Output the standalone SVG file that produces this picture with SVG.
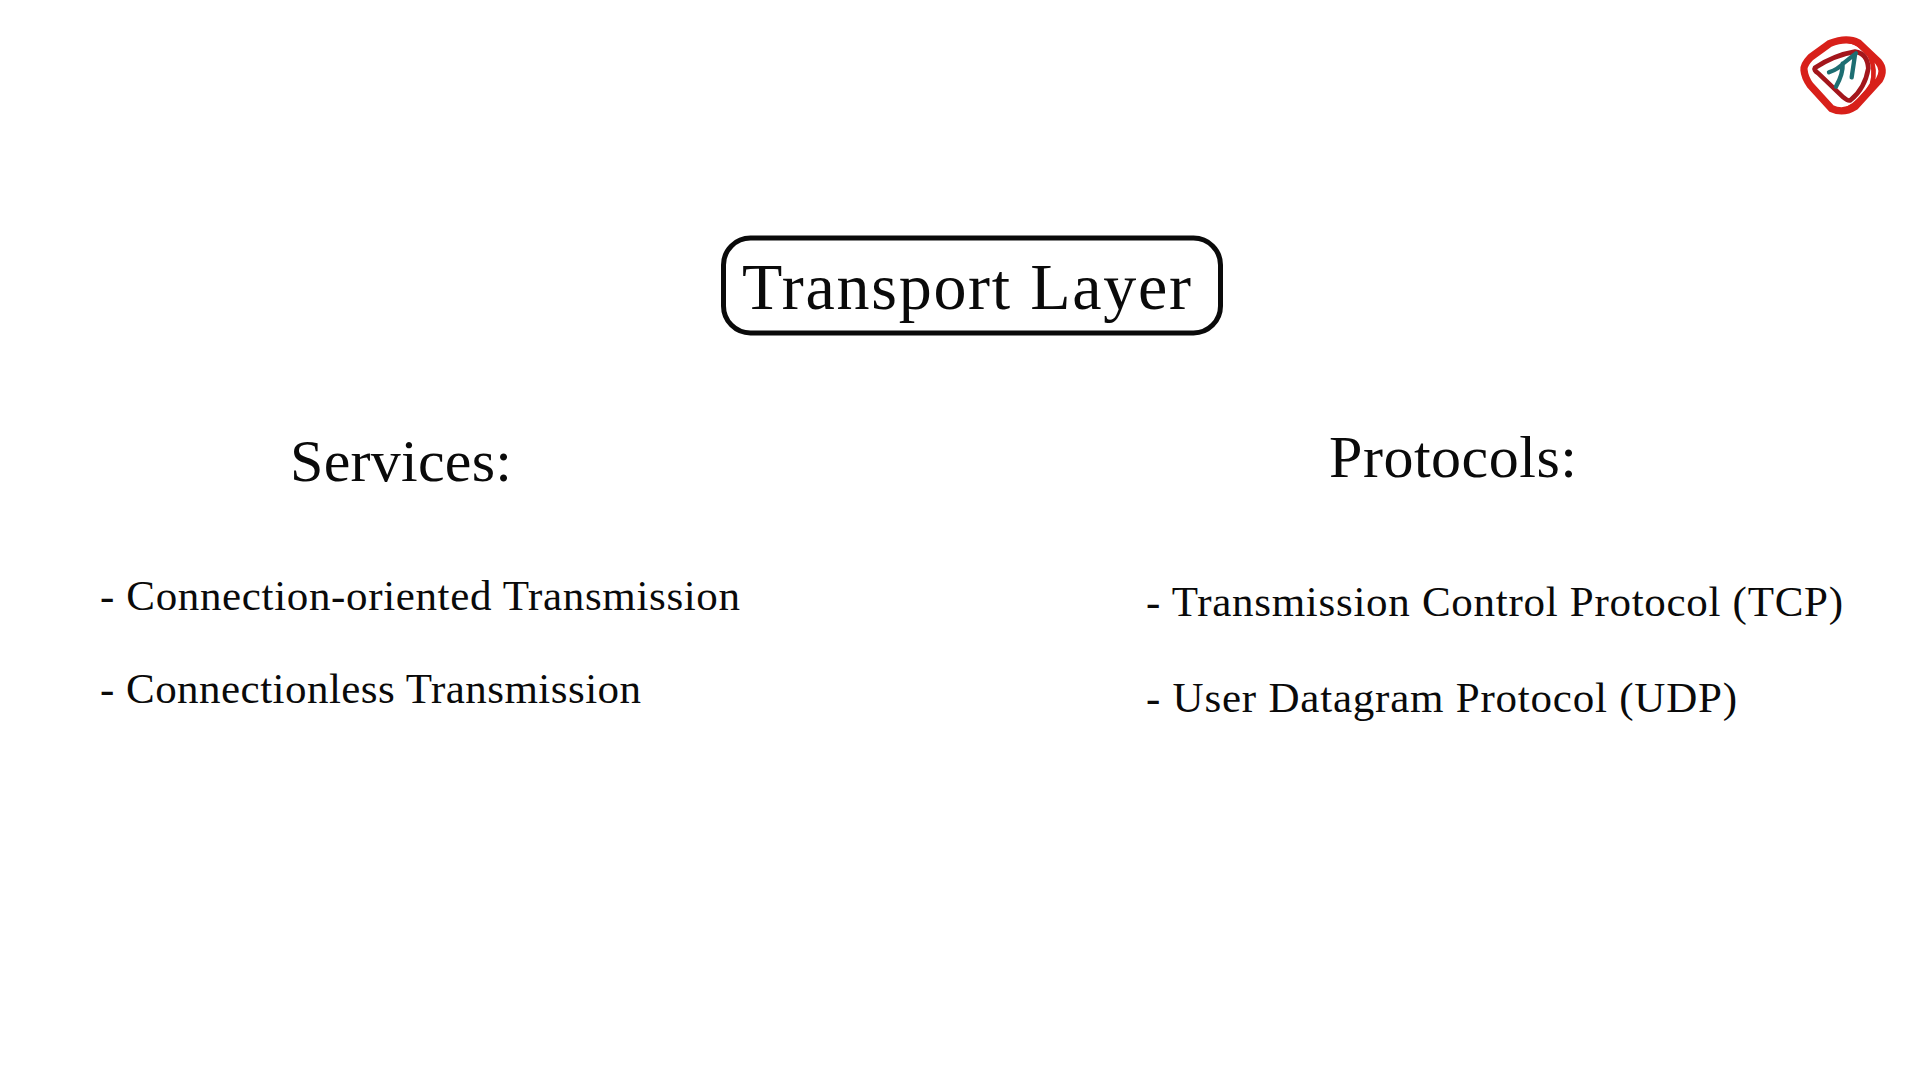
<svg xmlns="http://www.w3.org/2000/svg" width="1920" height="1080" viewBox="0 0 1920 1080">
<style>
text{font-family:"Liberation Serif","Times New Roman",serif;fill:#0a0a0a}
.h{font-size:60px}
.l{font-size:43px}
.r{fill:none;stroke:#d8201a;stroke-linejoin:round;stroke-linecap:round}
</style>
<rect width="1920" height="1080" fill="#fff"/>
<g id="title">
<rect x="723.500" y="238" width="497" height="95" rx="27" fill="#fff" stroke="#0a0a0a" stroke-width="5"/>
<text x="742" y="309" font-size="66" textLength="449" lengthAdjust="spacing">Transport Layer</text>
</g>
<g id="services">
<text class="h" x="290" y="481" textLength="222" lengthAdjust="spacing">Services:</text>
<text class="l" x="100" y="610" textLength="640" lengthAdjust="spacing">- Connection-oriented Transmission</text>
<text class="l" x="100" y="703" textLength="541" lengthAdjust="spacing">- Connectionless Transmission</text>
</g>
<g id="protocols">
<text class="h" x="1329" y="477" textLength="248" lengthAdjust="spacing">Protocols:</text>
<text class="l" x="1146" y="616" textLength="697" lengthAdjust="spacing">- Transmission Control Protocol (TCP)</text>
<text class="l" x="1146" y="712" textLength="591" lengthAdjust="spacing">- User Datagram Protocol (UDP)</text>
</g>
<g id="logo" transform="translate(1780,20) scale(0.3333)">
<path class="r" stroke-width="22" d="M72 150 Q70 135 92 112 L150 70 Q200 50 235 68 L295 125 Q316 150 298 180 L225 260 Q190 282 155 266 L90 195 Q74 172 72 150Z"/>
<path class="r" stroke-width="14" d="M205 62 Q245 70 270 108 Q288 150 276 192 Q250 240 200 268"/>
<path fill="none" stroke="#a3161c" stroke-width="14" stroke-linejoin="round" d="M105 143 Q165 105 225 95 Q262 100 265 145 Q255 205 212 240 Q205 245 190 232 L115 160 Q100 150 105 143Z"/>
<path fill="none" stroke="#1d6e72" stroke-width="13" stroke-linecap="round" stroke-linejoin="round" d="M147 157 Q175 147 190 130 L228 100 M188 130 Q190 160 168 200 M225 105 L215 172"/>
</g>
</svg>
